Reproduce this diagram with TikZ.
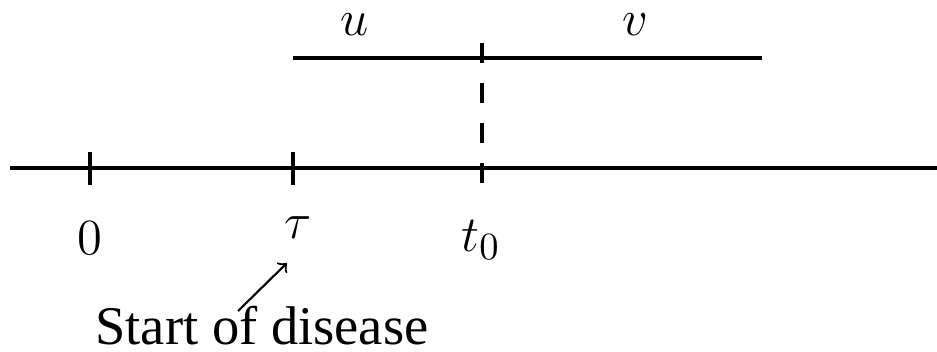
\documentclass[tikz,border=0pt]{standalone}
\usepackage{fontspec}
\setmainfont{Liberation Serif}
\usetikzlibrary{arrows, positioning}

\begin{document}
\begin{tikzpicture}[x=0.01cm, y=-0.01cm, line width=1.15pt, font=\fontsize{15.5}{18}\selectfont]
            \useasboundingbox (0,0) rectangle (937,352);

            % Sumbu waktu
            \coordinate (axl) at (10,168);
            \coordinate (axr) at (937,168);
            \draw (axl) -- (axr);
            \foreach \x in {90,293}
                \draw (\x,152) -- (\x,185);

            % Garis u dan v
            \coordinate (ul) at (293,58);
            \coordinate (vr) at (762,58);
            \draw (ul) -- (vr);
            \coordinate (dtop) at (482,43);
            \coordinate (dbot) at (482,185);
            \draw[dash pattern=on 0.2cm off 0.2cm] (dtop) -- (dbot);

            % Label
            \node (ulbl) at (355,25) {$u$};
            \node (vlbl) at (635,25) {$v$};
            \node (zero) at (90,238) {$0$};
            \node (tau) at (298,228) {$\tau$};
            \node (tnull) at (481,240) {$t_0$};
            \node (start) at (262,326) {Start of disease};

            \coordinate (arrfrom) at (238,311);
            \coordinate (arrto) at (287,263);
            \draw[->, line width=0.6pt] (arrfrom) -- (arrto);
        \end{tikzpicture}
\end{document}
